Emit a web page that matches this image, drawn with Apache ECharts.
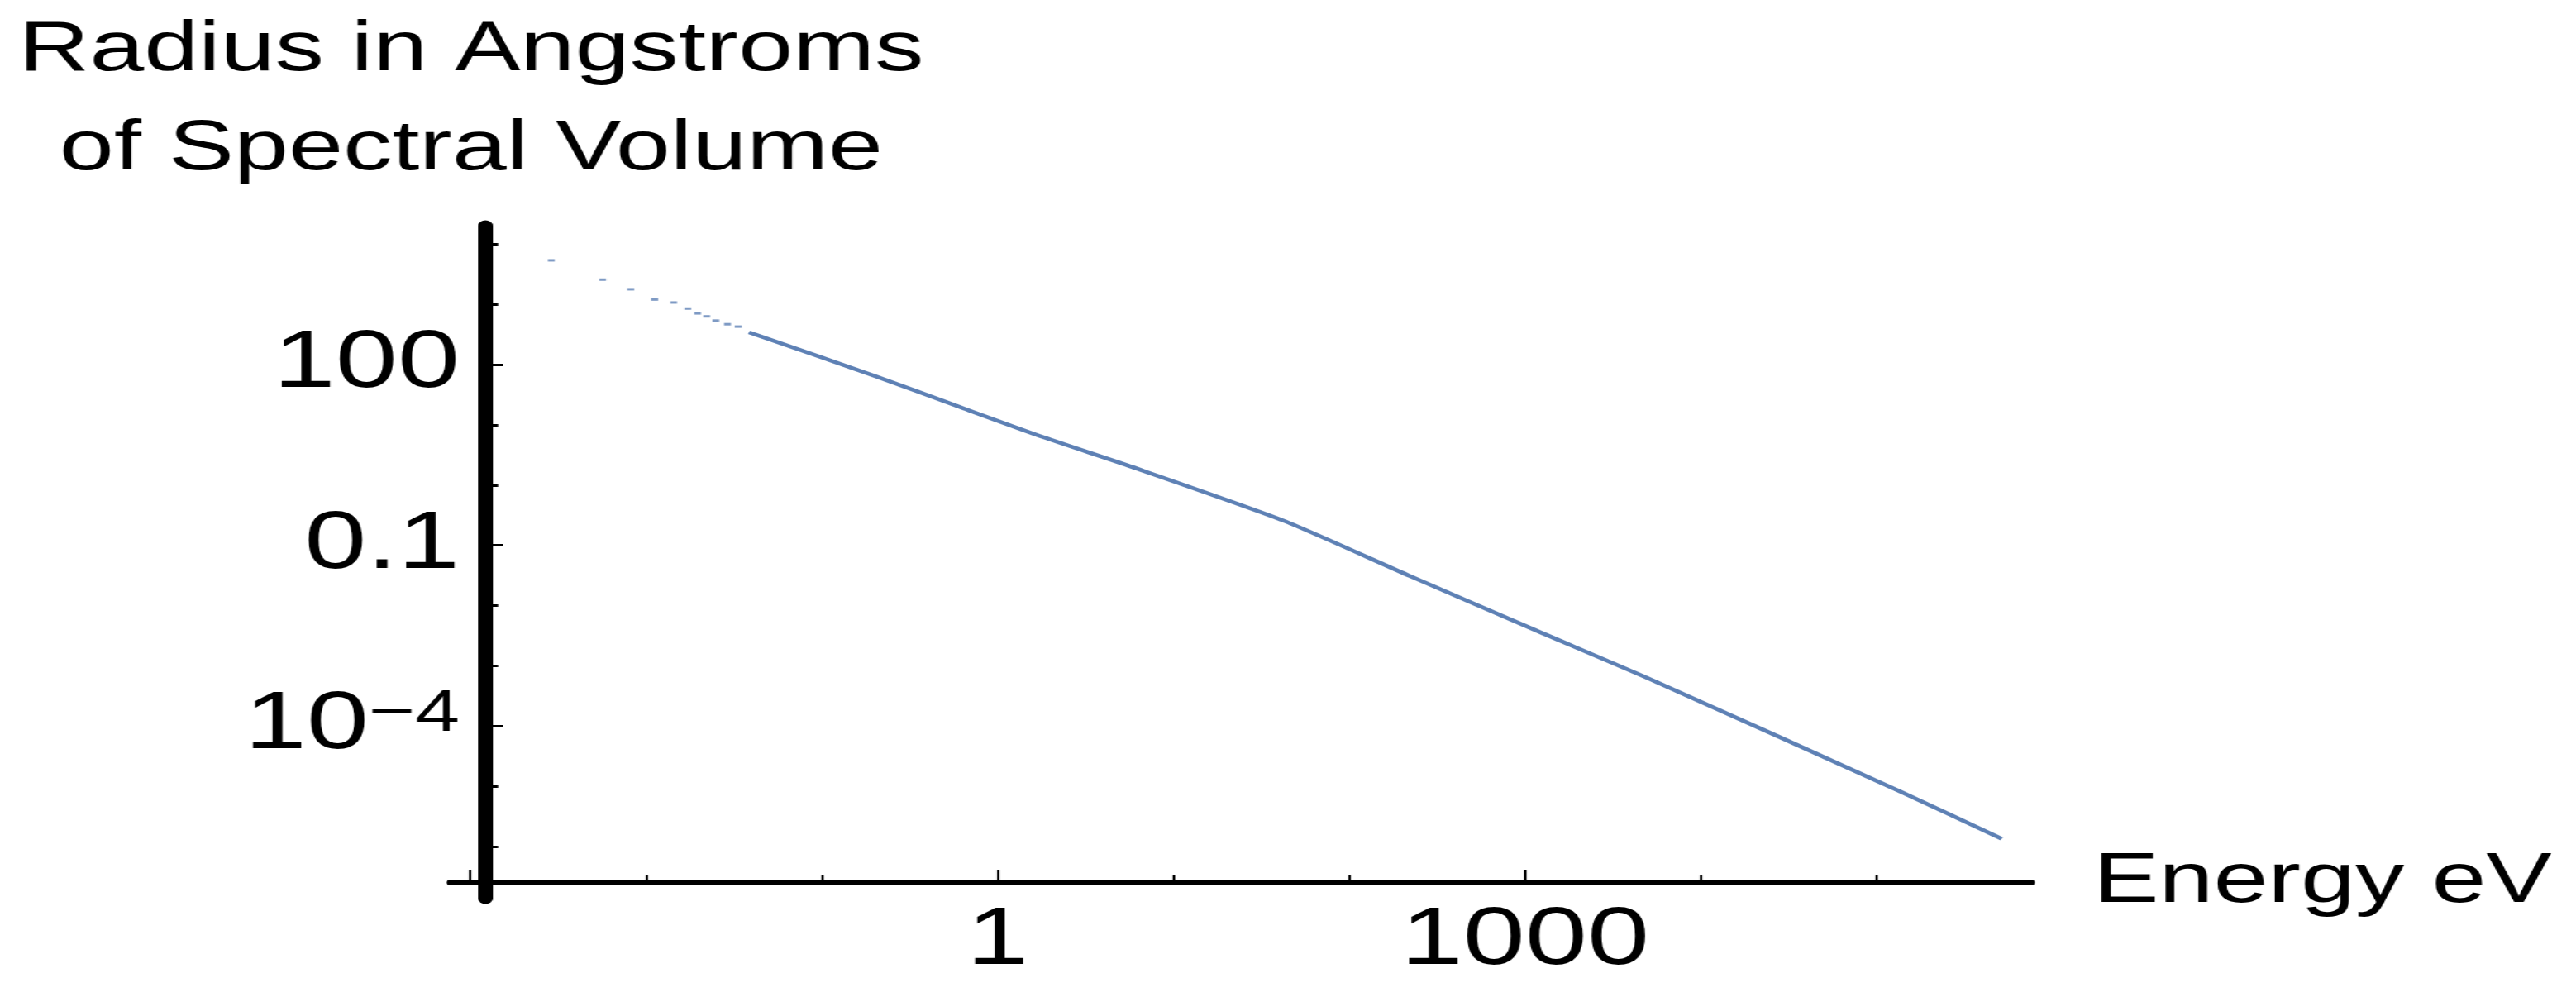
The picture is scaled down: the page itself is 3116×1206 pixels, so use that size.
<!DOCTYPE html>
<html>
<head>
<meta charset="utf-8">
<title>Radius in Angstroms of Spectral Volume</title>
<script src="https://cdn.jsdelivr.net/npm/echarts@6/dist/echarts.min.js"></script>
<style>
    html, body {
        margin: 0;
        padding: 0;
        background: #fff;
        overflow: hidden;
    }
    /* the source picture is stretched sideways, so the chart is drawn narrow and widened */
    #chart {
        width: 2258px;
        height: 1206px;
        transform: scaleX(1.38);
        transform-origin: 0 0;
    }
</style>
</head>
<body>
<div id="chart"></div>
<script>
    // sparse points at the low-energy end
    const energyDots = [0.00289, 0.00566, 0.00818, 0.01119, 0.01435, 0.01726, 0.01963, 0.02213, 0.02495, 0.02904, 0.03342];
    const radiusDots = [5370, 2570, 1778, 1202, 1072, 851, 708, 631, 537, 468, 427];

    // dense part
    const energyLine = [0.0385, 0.201, 0.608, 1.83, 5.83, 42.4, 222, 1175, 5346, 137700, 515000];
    const radiusLine = [343, 64.5, 19.8, 6.2, 2.0, 0.257, 0.0309, 0.0038, 0.000575, 0.00000813, 0.00000135];

    const xMinorTicks = [0.01, 0.1, 10, 100, 10000, 100000];
    const xMajorTicks = [0.001, 1, 1000];
    const xTickLabels = [1, 1000];

    const yMinorTicks = [10000, 1000, 10, 1, 0.01, 0.001, 0.00001, 0.000001];
    const yMajorTicks = [100, 0.1, 0.0001];
    const yTickLabels = [100, 0.1, 0.0001];

    const xMin = 0.000773;
    const xMax = 753000;
    const yMin = 1.377e-7;
    const yMax = 20200;

    const lineColor = '#5E81B5';
    const font = 'Liberation Sans, Arial, sans-serif';

    function pairs(xs, ys) {
        return xs.map((x, i) => [x, ys[i]]);
    }

    function yLabel(v) {
        const p = Math.round(Math.log10(v));
        if (p === 2) {
            return '100';
        }
        if (p === -1) {
            return '0.1';
        }
        return '{b|10}{s|\u2212' + Math.abs(p) + '}';
    }

    const chart = echarts.init(document.getElementById('chart'));

    chart.setOption({
        backgroundColor: '#fff',
        animation: false,
        grid: {
            left: 395,
            right: 478,
            top: 273,
            bottom: 119
        },
        xAxis: [
            {
                type: 'log',
                min: xMin,
                max: xMax,
                offset: -20,
                axisLine: {
                    onZero: false,
                    lineStyle: {color: '#000', width: 7}
                },
                axisTick: {
                    inside: true,
                    length: 8,
                    customValues: xMinorTicks,
                    lineStyle: {color: '#000', width: 2.2}
                },
                axisLabel: {show: false},
                splitLine: {show: false},
                name: 'Energy eV',
                nameLocation: 'end',
                nameGap: 55,
                nameTextStyle: {
                    fontFamily: font,
                    fontSize: 86,
                    color: '#000'
                }
            },
            {
                type: 'log',
                min: xMin,
                max: xMax,
                offset: -20,
                position: 'bottom',
                axisLine: {show: false, onZero: false},
                axisTick: {
                    inside: true,
                    length: 15,
                    customValues: xMajorTicks,
                    lineStyle: {color: '#000', width: 2.2}
                },
                axisLabel: {
                    customValues: xTickLabels,
                    margin: 23,
                    fontFamily: font,
                    fontSize: 98,
                    color: '#000',
                    formatter: v => String(Math.round(v))
                },
                splitLine: {show: false}
            }
        ],
        yAxis: [
            {
                type: 'log',
                min: yMin,
                max: yMax,
                offset: -30,
                axisLine: {
                    onZero: false,
                    lineStyle: {color: '#000', width: 13}
                },
                axisTick: {
                    inside: true,
                    length: 11.6,
                    customValues: yMinorTicks,
                    lineStyle: {color: '#000', width: 3}
                },
                axisLabel: {show: false},
                splitLine: {show: false},
                name: 'Radius in Angstroms\nof Spectral Volume',
                nameLocation: 'end',
                nameGap: 32,
                nameTextStyle: {
                    fontFamily: font,
                    fontSize: 86,
                    lineHeight: 120,
                    color: '#000',
                    align: 'center',
                    padding: [0, 24, 0, 0]
                }
            },
            {
                type: 'log',
                min: yMin,
                max: yMax,
                offset: -30,
                position: 'left',
                axisLine: {show: false, onZero: false},
                axisTick: {
                    inside: true,
                    length: 16,
                    customValues: yMajorTicks,
                    lineStyle: {color: '#000', width: 3}
                },
                axisLabel: {
                    customValues: yTickLabels,
                    margin: 22,
                    fontFamily: font,
                    fontSize: 98,
                    color: '#000',
                    formatter: yLabel,
                    rich: {
                        b: {fontFamily: font, fontSize: 98, lineHeight: 98, color: '#000'},
                        s: {fontFamily: font, fontSize: 70, lineHeight: 20, verticalAlign: 'top', color: '#000'}
                    }
                },
                splitLine: {show: false}
            }
        ],
        series: [
            {
                type: 'scatter',
                xAxisIndex: 0,
                yAxisIndex: 0,
                symbol: 'rect',
                symbolSize: [6, 3],
                itemStyle: {color: lineColor},
                data: pairs(energyDots, radiusDots)
            },
            {
                type: 'line',
                xAxisIndex: 0,
                yAxisIndex: 0,
                showSymbol: false,
                smooth: 0.2,
                lineStyle: {color: lineColor, width: 4.5},
                data: pairs(energyLine, radiusLine)
            }
        ]
    });
</script>
</body>
</html>
